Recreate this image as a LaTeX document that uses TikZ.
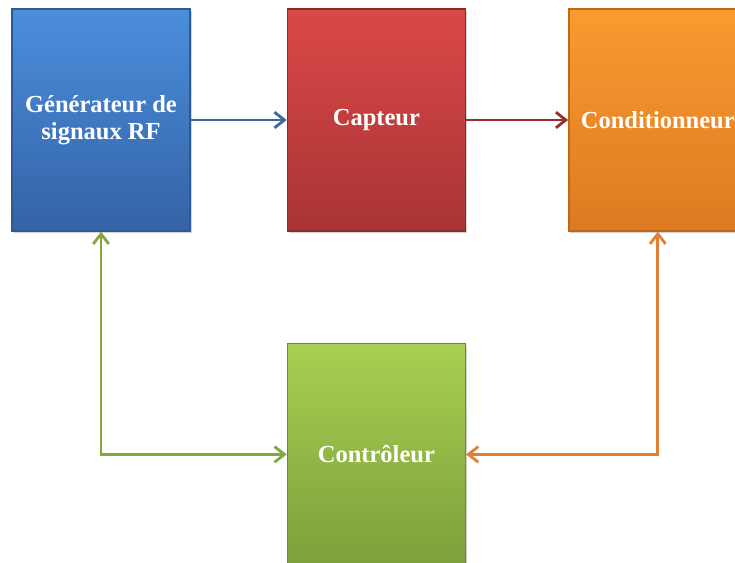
\documentclass[tikz,border=0pt]{standalone}
\usepackage{fontspec}
\setmainfont{Liberation Serif}
\usepackage{tikz}
\usetikzlibrary{arrows.meta,positioning,shadows}
\definecolor{genhi}{HTML}{4B8EDC}
\definecolor{genlo}{HTML}{3463A6}
\definecolor{genedge}{HTML}{2D5A95}
\definecolor{capthi}{HTML}{DA4848}
\definecolor{captlo}{HTML}{A93434}
\definecolor{captedge}{HTML}{8C2A2A}
\definecolor{condhi}{HTML}{FA9A30}
\definecolor{condlo}{HTML}{DD7A22}
\definecolor{condedge}{HTML}{C06818}
\definecolor{ctrlhi}{HTML}{A8D052}
\definecolor{ctrllo}{HTML}{7E9F3A}
\definecolor{ctrledge}{HTML}{6A8A30}
\definecolor{linkblue}{HTML}{3C68A0}
\definecolor{linkred}{HTML}{9A2F2F}
\definecolor{linkgreen}{HTML}{82A83E}
\definecolor{linkorange}{HTML}{E07F35}

\begin{document}
\begin{tikzpicture}[x=1pt, y=-1pt, >={Straight Barb[length=3.5mm,width=5.5mm]},
  font=\fontsize{24.5}{27}\selectfont\bfseries,
  blk/.style={minimum width=178pt, minimum height=222pt, inner sep=2pt,
    align=center, text=white, line width=1.4pt,
    drop shadow={shadow xshift=1.5pt, shadow yshift=-2pt, opacity=0.35}},
  link/.style={line width=2.8pt}]
\useasboundingbox (0,0) rectangle (735,562);
\clip (0,0) rectangle (735,562);
\node[blk, draw=genedge, top color=genhi, bottom color=genlo] (gen) at (101,120)
  {Générateur de\\ signaux RF};
\node[blk, draw=captedge, top color=capthi, bottom color=captlo,
  right=96pt of gen] (capt) {Capteur};
\node[blk, draw=condedge, top color=condhi, bottom color=condlo,
  right=102pt of capt] (cond) {Conditionneur};
\node[blk, draw=ctrledge, top color=ctrlhi, bottom color=ctrllo,
  below=111pt of capt] (ctrl) {Contrôleur};
\draw[link, linkblue, ->] (gen) -- (capt);
\draw[link, linkred, ->] (capt) -- (cond);
\draw[link, linkgreen, <->] (gen.south) |- (ctrl.west);
\draw[link, linkorange, <->] (ctrl.east) -| (cond.south);
\end{tikzpicture}
\end{document}
